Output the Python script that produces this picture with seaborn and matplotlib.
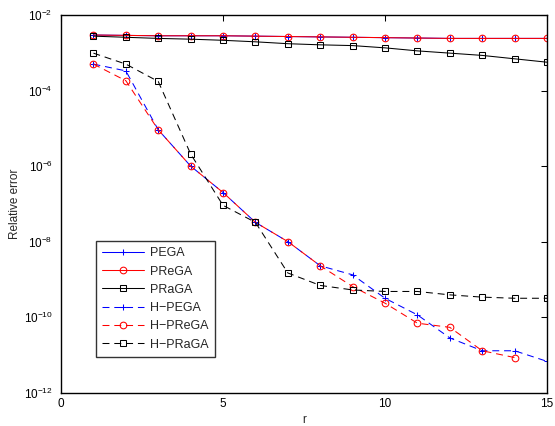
import numpy as np
import matplotlib
matplotlib.use("Agg")
import matplotlib.pyplot as plt
import seaborn as sns

r = list(range(1, 16))
r14 = list(range(1, 15))

# log10 of relative error
pega_log = [-2.53, -2.54, -2.55, -2.55, -2.55, -2.56, -2.57, -2.58, -2.59, -2.60, -2.61, -2.62, -2.62, -2.62, -2.62]
prega_log = [-2.53, -2.54, -2.55, -2.55, -2.55, -2.56, -2.57, -2.58, -2.59, -2.60, -2.61, -2.62, -2.62, -2.62, -2.62]
praga_log = [-2.56, -2.59, -2.62, -2.64, -2.67, -2.71, -2.76, -2.79, -2.81, -2.87, -2.95, -3.01, -3.07, -3.16, -3.25]
hpega_log = [-3.30, -3.48, -5.04, -6.00, -6.70, -7.49, -8.00, -8.64, -8.88, -9.50, -9.94, -10.55, -10.89, -10.89, -11.17]
hprega_log = [-3.30, -3.74, -5.04, -6.00, -6.70, -7.49, -8.00, -8.64, -9.19, -9.63, -10.16, -10.27, -10.89, -11.07]
hpraga_log = [-3.01, -3.30, -3.76, -5.68, -7.04, -7.49, -8.83, -9.16, -9.28, -9.32, -9.32, -9.41, -9.47, -9.50, -9.50]

labels = ["PEGA", "PReGA", "PRaGA", "H\u2212PEGA", "H\u2212PReGA", "H\u2212PRaGA"]

sns.set_theme(style="white")
plt.rcParams['font.family'] = ['Liberation Sans', 'DejaVu Sans']
plt.rcParams['mathtext.fontset'] = 'custom'
plt.rcParams['mathtext.rm'] = 'Liberation Sans'
plt.rcParams['mathtext.it'] = 'Liberation Sans'
plt.rcParams['lines.scale_dashes'] = False

fig = plt.figure(figsize=(5.55, 4.26), dpi=100)
ax = fig.add_axes([0.110, 0.0782, 0.8756, 0.8866])

series = [
    (r, pega_log, "#0000ff", "+", "-"),
    (r, prega_log, "#ff0000", "o", "-"),
    (r, praga_log, "#000000", "s", "-"),
    (r, hpega_log, "#0000ff", "+", (0, (5, 3.5))),
    (r14, hprega_log, "#ff0000", "o", (0, (5, 3.5))),
    (r, hpraga_log, "#000000", "s", (0, (5, 3.5))),
]

for (xs, ys, c, m, ls), lab in zip(series, labels):
    vals = [10.0 ** v for v in ys]
    ms = 4.8 if m == "o" else (5.0 if m == "+" else 4.5)
    sns.lineplot(x=xs, y=vals, ax=ax, color=c, marker=m, linestyle=ls,
                 linewidth=0.75, markersize=ms, markerfacecolor="none",
                 markeredgecolor=c, markeredgewidth=0.75, label=lab,
                 legend=False, estimator=None, sort=False)

ax.set_yscale("log")
ax.set_xlim(0, 15)
ax.set_ylim(1e-12, 1e-2)
ax.set_xticks([0, 5, 10, 15])
ax.set_yticks([1e-12, 1e-10, 1e-8, 1e-6, 1e-4, 1e-2])
ax.yaxis.set_minor_locator(matplotlib.ticker.NullLocator())
ax.tick_params(axis="both", which="major", direction="in", length=4, width=0.75,
               top=True, right=True, labelsize=8.5, colors="black")
ax.tick_params(axis="y", pad=6)
ax.tick_params(axis="x", pad=4)
ax.tick_params(which="minor", left=False, right=False, bottom=False, top=False)
for sp in ax.spines.values():
    sp.set_color("black")
    sp.set_linewidth(1.0)

ax.set_xlabel("r", fontsize=8.5, labelpad=3)
ax.set_ylabel("Relative error", fontsize=8.5, labelpad=2)

handles = ax.get_lines()[:6]
leg = ax.legend(handles, labels, loc="upper left", bbox_to_anchor=(0.072, 0.4016),
                borderaxespad=0, fontsize=9, handlelength=3.3, labelspacing=0.5,
                frameon=True, fancybox=False, edgecolor="black", borderpad=0.5,
                handletextpad=0.5)
leg.get_frame().set_linewidth(1.0)

fig.savefig("out.png", dpi=100)
